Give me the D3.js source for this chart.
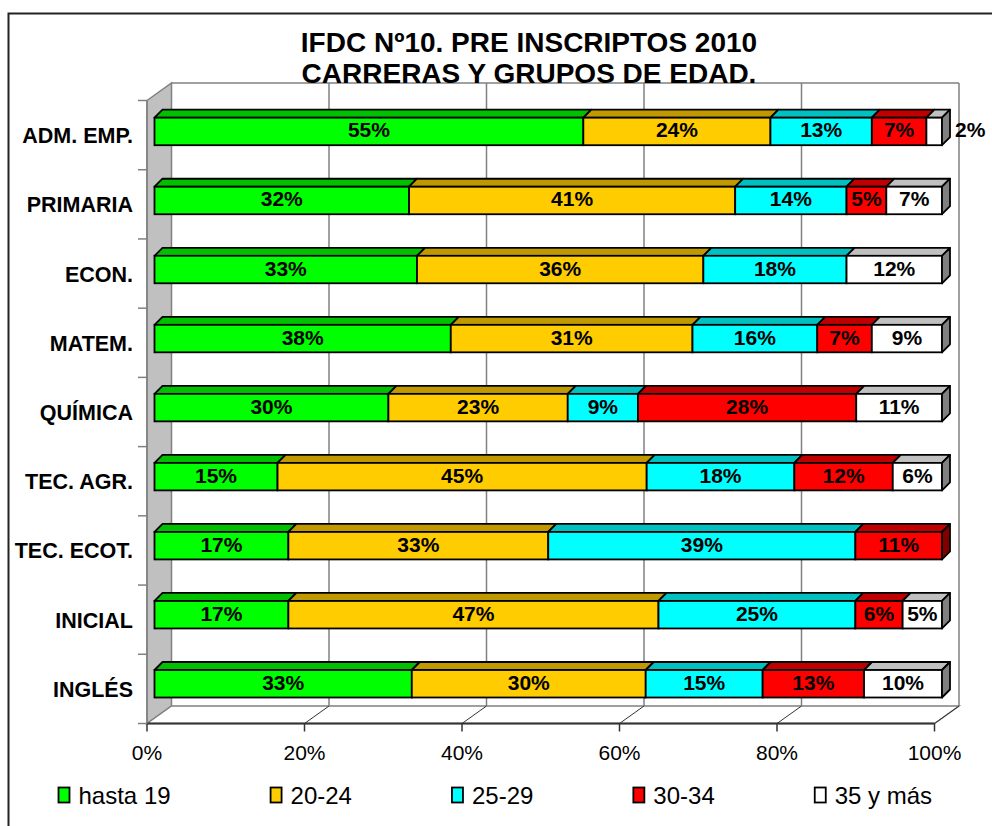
<!DOCTYPE html>
<html><head><meta charset="utf-8">
<script src="https://cdn.jsdelivr.net/npm/d3@7"></script>
<style>
html,body{margin:0;padding:0;background:#fff;}
text{font-family:"Liberation Sans",Arial,sans-serif;fill:#000;}
</style></head>
<body>
<svg id="chart" width="992" height="826"></svg>
<script>
const titleLines = ["IFDC Nº10. PRE INSCRIPTOS 2010", "CARRERAS Y GRUPOS DE EDAD."];
const categories = ["ADM. EMP.", "PRIMARIA", "ECON.", "MATEM.", "QUÍMICA", "TEC. AGR.", "TEC. ECOT.", "INICIAL", "INGLÉS"];
const seriesNames = ["hasta 19", "20-24", "25-29", "30-34", "35 y más"];
const hasta19 = [55, 32, 33, 38, 30, 15, 17, 17, 33];
const g20_24  = [24, 41, 36, 31, 23, 45, 33, 47, 30];
const g25_29  = [13, 14, 18, 16,  9, 18, 39, 25, 15];
const g30_34  = [ 7,  5,  0,  7, 28, 12, 11,  6, 13];
const g35mas  = [ 2,  7, 12,  9, 11,  6,  0,  5, 10];
const xTicks = [0, 0.2, 0.4, 0.6, 0.8, 1.0];

const seriesValues = [hasta19, g20_24, g25_29, g30_34, g35mas];
const frontColors = ["#00FF00", "#FFCC00", "#00FFFF", "#FF0000", "#FFFFFF"];
const topColors   = ["#00C000", "#C09900", "#00C0C0", "#C00000", "#C0C0C0"];
const sideColors  = ["#008000", "#806600", "#008080", "#800000", "#808080"];

const svg = d3.select("#chart");

// outer border
svg.append("path").attr("d","M8.5,826 L8.5,13.5 L992,13.5").attr("fill","none").attr("stroke","#222").attr("stroke-width",2);

// geometry
const frontY = 723.5, DX = 24.5, DY = -17.5, topY = 83;
const xFront = d3.scaleLinear().domain([0,1]).range([147, 934.5]);
const xBack = v => xFront(v) + DX;
const backY = frontY + DY;
const catBand = d3.scaleBand().domain(categories).range([topY - DY, frontY]);
const xBar = d3.scaleLinear().domain([0,1]).range([154.5, 942]);
const barTop = d3.scalePoint().domain(categories).range([117.7, 670]);
const barH = 27.5, bdx = 8, bdy = -8;

// back wall
svg.append("rect").attr("x", xBack(0)).attr("y", topY).attr("width", xBack(1)-xBack(0)).attr("height", backY-topY).attr("fill","#fff");
svg.selectAll(".grid").data(xTicks.slice(1)).enter().append("line")
  .attr("x1", d=>xBack(d)).attr("x2", d=>xBack(d)).attr("y1", topY).attr("y2", backY)
  .attr("stroke","#808080").attr("stroke-width",1.5);
svg.append("line").attr("x1",xBack(0)).attr("x2",xBack(1)).attr("y1",topY).attr("y2",topY).attr("stroke","#808080").attr("stroke-width",1.5);
// left wall
svg.append("path").attr("d",`M${xFront(0)},${topY-DY} L${xBack(0)},${topY} L${xBack(0)},${backY} L${xFront(0)},${frontY} Z`)
  .attr("fill","#C0C0C0").attr("stroke","#808080").attr("stroke-width",1.5);
// floor
svg.append("path").attr("d",`M${xFront(0)},${frontY} L${xBack(0)},${backY} L${xBack(1)},${backY} L${xFront(1)},${frontY} Z`)
  .attr("fill","#fff").attr("stroke","#808080").attr("stroke-width",1.5);
svg.selectAll(".fgrid").data(xTicks.slice(1)).enter().append("line")
  .attr("x1", d=>xFront(d)).attr("y1", frontY).attr("x2", d=>xBack(d)).attr("y2", backY)
  .attr("stroke","#333").attr("stroke-width",1);
// front axis line + ticks
svg.append("line").attr("x1",xFront(0)).attr("x2",xFront(1)).attr("y1",frontY).attr("y2",frontY).attr("stroke","#333").attr("stroke-width",2);
svg.selectAll(".xt").data(xTicks).enter().append("line")
  .attr("x1", d=>xFront(d)).attr("x2", d=>xFront(d)).attr("y1", frontY).attr("y2", frontY+8)
  .attr("stroke","#333").attr("stroke-width",1.5);
svg.selectAll(".xl").data(xTicks).enter().append("text")
  .attr("x", d=>xFront(d)).attr("y", 760).attr("text-anchor","middle")
  .style("font-size","21px").text(d3.format(".0%"));
// category axis
svg.append("line").attr("x1",xFront(0)).attr("x2",xFront(0)).attr("y1",topY-DY).attr("y2",frontY).attr("stroke","#808080").attr("stroke-width",1.5);
const catTicks = categories.map(c=>catBand(c)).concat([frontY]);
svg.selectAll(".yt").data(catTicks).enter().append("line")
  .attr("x1", xFront(0)-9).attr("x2", xFront(0)).attr("y1", d=>d).attr("y2", d=>d)
  .attr("stroke","#808080").attr("stroke-width",1.5);
svg.selectAll(".yl").data(categories).enter().append("text")
  .attr("x", 133).attr("y", d=>catBand(d)+catBand.bandwidth()/2 + 8)
  .attr("text-anchor","end").style("font-size","21.5px").style("font-weight","bold").text(d=>d);

// stacked data
const rows = categories.map((c,i)=>{
  const vals = seriesValues.map(s=>s[i]);
  const total = d3.sum(vals);
  let acc = 0;
  const segs = vals.map((v,k)=>{ const s = {cat:c, k, v, x0:acc/total, x1:(acc+v)/total}; acc += v; return s; });
  return {cat:c, segs};
});

const bars = svg.append("g");
rows.forEach(r=>{
  const y = barTop(r.cat);
  const g = bars.append("g");
  const segs = r.segs.filter(s=>s.v>0);
  segs.forEach(s=>{
    const xa = xBar(s.x0), xb = xBar(s.x1);
    g.append("path").attr("d",`M${xa},${y} L${xa+bdx},${y+bdy} L${xb+bdx},${y+bdy} L${xb},${y} Z`)
      .attr("fill", topColors[s.k]).attr("stroke","#000").attr("stroke-width",1.8).attr("stroke-linejoin","round");
    g.append("rect").attr("x", xa).attr("y", y).attr("width", xb-xa).attr("height", barH)
      .attr("fill", frontColors[s.k]).attr("stroke","#000").attr("stroke-width",1.8);
  });
  const last = segs[segs.length-1];
  const xe = xBar(last.x1);
  g.append("path").attr("d",`M${xe},${y} L${xe+bdx},${y+bdy} L${xe+bdx},${y+bdy+barH} L${xe},${y+barH} Z`)
    .attr("fill", sideColors[last.k]).attr("stroke","#000").attr("stroke-width",1.8).attr("stroke-linejoin","round");
  segs.forEach(s=>{
    const xa = xBar(s.x0), xb = xBar(s.x1);
    const outside = (xb-xa) < 25;
    g.append("text")
      .attr("x", outside ? xb + bdx + 5 : (xa+xb)/2)
      .attr("y", y + barH/2 + 6)
      .attr("text-anchor", outside ? "start" : "middle")
      .style("font-size","21px").style("font-weight","bold")
      .text(s.v + "%");
  });
});

// title
svg.selectAll(".title").data(titleLines).enter().append("text")
  .attr("x", 529).attr("y", (d,i)=>52 + i*31).attr("text-anchor","middle")
  .style("font-size","28px").style("font-weight","bold").text(d=>d);

// legend
const leg = svg.append("g");
let lx = 58.5;
seriesNames.forEach((n,k)=>{
  leg.append("rect").attr("x", lx).attr("y", 787.5).attr("width", 11).attr("height", 15)
    .attr("fill", frontColors[k]).attr("stroke","#000").attr("stroke-width",1.8);
  const t = leg.append("text").attr("x", lx + 20).attr("y", 803.5).style("font-size","24px").text(n);
  lx += 20 + t.node().getComputedTextLength() + 100;
});
</script>
</body></html>
